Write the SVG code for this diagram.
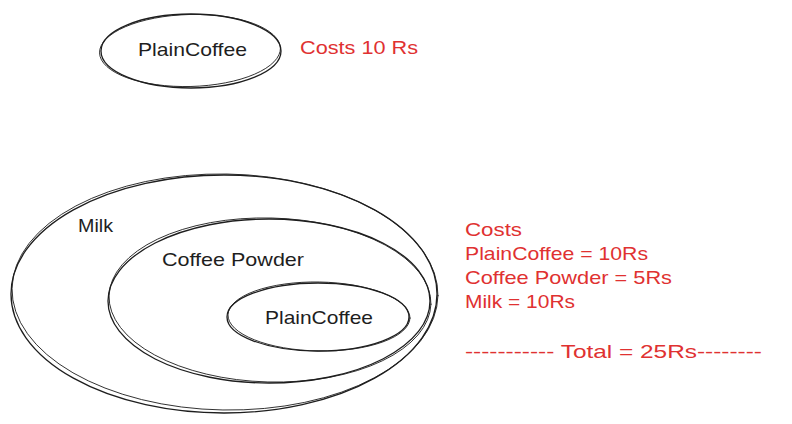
<svg xmlns="http://www.w3.org/2000/svg" width="792" height="424" viewBox="0 0 792 424">
<style>
.sh{fill:none;stroke:#1e1e1e;stroke-width:1.3;stroke-linecap:round}
.sh2{fill:none;stroke:#1e1e1e;stroke-width:0.9;stroke-linecap:round}
.t{font-family:"Liberation Sans","Open Sans",sans-serif;font-size:19px;fill:#1e1e1e}
.r{font-family:"Liberation Sans","Open Sans",sans-serif;font-size:19px;fill:#e03131}
</style>
<rect width="792" height="424" fill="#ffffff"/>
<g id="top-plaincoffee">
<ellipse class="sh" cx="191" cy="51" rx="90" ry="37"/>
<ellipse class="sh2" cx="190" cy="50.5" rx="90.5" ry="36" transform="rotate(-1.5 190 50)"/>
<text class="t" x="138" y="56" textLength="109" lengthAdjust="spacingAndGlyphs">PlainCoffee</text>
</g>
<g id="top-cost">
<text class="r" x="300" y="54" textLength="118" lengthAdjust="spacingAndGlyphs">Costs 10 Rs</text>
</g>
<g id="milk">
<ellipse class="sh" cx="224" cy="294" rx="213" ry="119"/>
<ellipse class="sh2" cx="225" cy="292" rx="213" ry="118" transform="rotate(1 225 292)"/>
<text class="t" x="78" y="232" textLength="35" lengthAdjust="spacingAndGlyphs">Milk</text>
</g>
<g id="coffee-powder">
<ellipse class="sh" cx="269" cy="301" rx="161" ry="82"/>
<ellipse class="sh2" cx="270" cy="300" rx="161" ry="82" transform="rotate(1.5 270 300)"/>
<text class="t" x="162" y="266" textLength="142" lengthAdjust="spacingAndGlyphs">Coffee Powder</text>
</g>
<g id="inner-plaincoffee">
<ellipse class="sh" cx="318" cy="317" rx="91" ry="34"/>
<ellipse class="sh2" cx="319" cy="316.5" rx="91" ry="34.5" transform="rotate(1 319 316)"/>
<text class="t" x="265" y="324" textLength="108" lengthAdjust="spacingAndGlyphs">PlainCoffee</text>
</g>
<g id="cost-breakdown">
<text class="r" x="465" y="236" textLength="57" lengthAdjust="spacingAndGlyphs">Costs</text>
<text class="r" x="465" y="260" textLength="183" lengthAdjust="spacingAndGlyphs">PlainCoffee = 10Rs</text>
<text class="r" x="465" y="284" textLength="207" lengthAdjust="spacingAndGlyphs">Coffee Powder = 5Rs</text>
<text class="r" x="465" y="308" textLength="110" lengthAdjust="spacingAndGlyphs">Milk = 10Rs</text>
<text class="r" x="465" y="358" textLength="297" lengthAdjust="spacingAndGlyphs">----------- Total = 25Rs--------</text>
</g>
</svg>
